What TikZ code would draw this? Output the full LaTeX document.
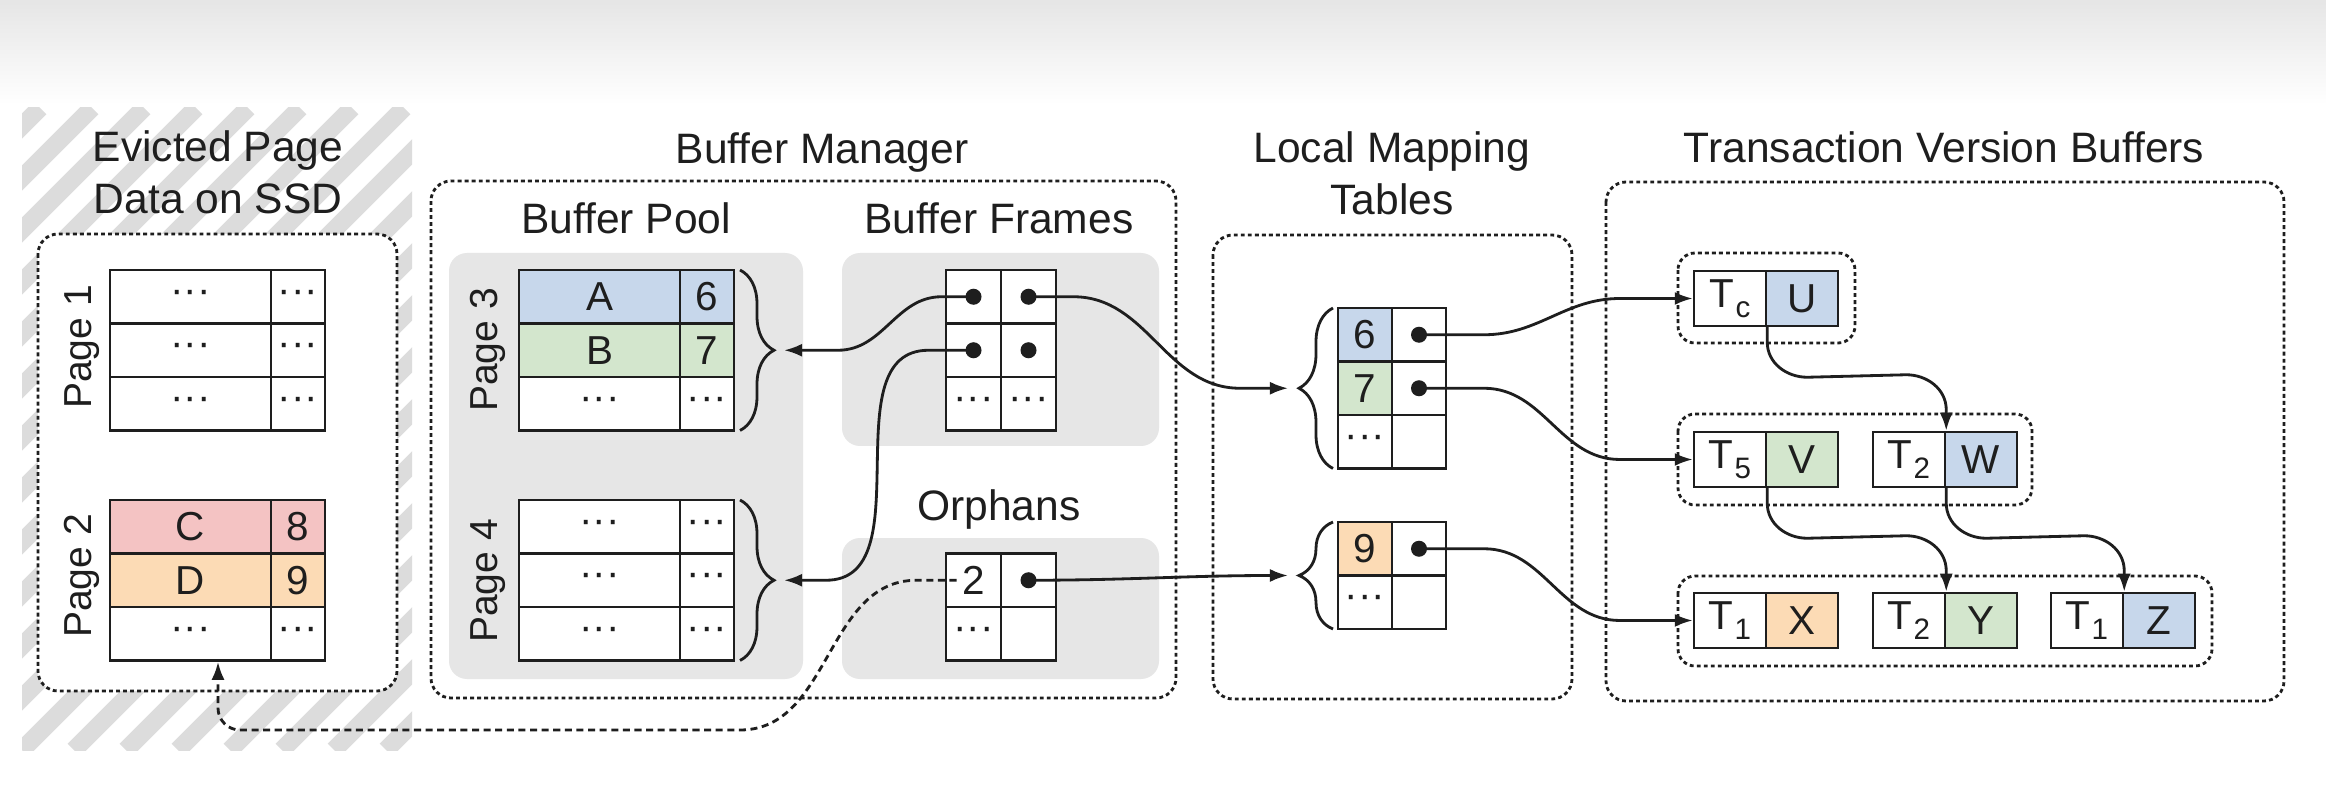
\documentclass[tikz,border=0pt]{standalone}
\usepackage{fontspec}
\setmainfont{Liberation Sans}
\usetikzlibrary{arrows.meta,decorations.pathreplacing,calc}
\definecolor{cblue}{HTML}{C7D7EB}
\definecolor{cgreen}{HTML}{D3E6CD}
\definecolor{cred}{HTML}{F4C3C3}
\definecolor{corange}{HTML}{FCDBB5}
\definecolor{bggray}{HTML}{E6E6E6}
\definecolor{hatchgray}{HTML}{DCDCDC}
\definecolor{ink}{HTML}{1E1E1E}
\newcommand\Tsub[1]{T\kern0.3pt\raisebox{-0.45ex}{\fontsize{8.4}{8.4}\selectfont #1}}
\newcommand\cdts{···}
\begin{document}
\begin{tikzpicture}[x=0.01cm,y=0.01cm,
  every node/.style={text=ink},
  cell/.style={draw=ink, line width=0.7pt, inner sep=0pt, minimum height=0.535cm, font=\fontsize{11.5}{12}\selectfont},
  bigc/.style={cell, minimum width=1.61cm},
  smallc/.style={cell, minimum width=0.54cm},
  framec/.style={cell, minimum width=0.55cm},
  mapc/.style={cell, minimum width=0.54cm},
  verc/.style={cell, minimum width=0.72cm, minimum height=0.55cm},
  regbox/.style={draw=ink, line width=0.8pt, dash pattern=on 1.1pt off 0.9pt, rounded corners=0.2cm},
  vgroup/.style={draw=ink, line width=0.8pt, dash pattern=on 1.1pt off 0.9pt, rounded corners=0.17cm},
  grayarea/.style={fill=bggray, rounded corners=0.18cm},
  ttl/.style={font=\fontsize{12.1}{14.8}\selectfont, inner sep=0pt, anchor=base},
  dotmark/.style={circle, fill=ink, inner sep=0pt, minimum size=0.16cm},
  conn/.style={draw=ink, line width=0.8pt, -{Latex[length=1.8mm,width=1.3mm]}},
  evict/.style={conn, dash pattern=on 2pt off 1.3pt},
  bracestyle/.style={draw=ink, line width=0.8pt, decorate, decoration={brace, amplitude=0.34cm}},
  plabel/.style={font=\fontsize{11.1}{14}\selectfont, rotate=90, inner sep=0pt}
]
\useasboundingbox (0,0) rectangle (2326,-794);
\fill[white] (0,0) rectangle (2326,-794);
\shade[top color=black!10, bottom color=white] (0,0) rectangle (2326,-105);

% ---------- SSD hatch ----------
\begin{scope}
  \clip (22,-108) rectangle (412,-750);
  \foreach \i in {-13,...,8} {
    \draw[hatchgray, line width=0.18cm] ({22+\i*52},-750) -- ++(642,642);
  }
\end{scope}
\node[ttl] (ssdt1) at (218,-162) {Evicted Page};
\node[ttl] (ssdt2) at (218,-214) {Data on SSD};
\draw[regbox, fill=white] (38,-234) rectangle (397,-691);

% Page 1
\node[plabel] (lp1) at (82,-347) {Page 1};
\node[bigc]   (s1a) at (190.5,-296.75) {\cdts};
\node[smallc] (s1b) at (298,-296.75) {\cdts};
\node[bigc]   (s1c) at (190.5,-350.25) {\cdts};
\node[smallc] (s1d) at (298,-350.25) {\cdts};
\node[bigc]   (s1e) at (190.5,-403.75) {\cdts};
\node[smallc] (s1f) at (298,-403.75) {\cdts};
% Page 2
\node[plabel] (lp2) at (82,-576) {Page 2};
\node[bigc, fill=cred]      (s2a) at (190.5,-526.75) {C};
\node[smallc, fill=cred]    (s2b) at (298,-526.75) {8};
\node[bigc, fill=corange]   (s2c) at (190.5,-580.25) {D};
\node[smallc, fill=corange] (s2d) at (298,-580.25) {9};
\node[bigc]   (s2e) at (190.5,-633.75) {\cdts};
\node[smallc] (s2f) at (298,-633.75) {\cdts};

% ---------- Buffer Manager ----------
\node[ttl] (bmt) at (822,-164) {Buffer Manager};
\draw[regbox] (431,-181) rectangle (1176,-698);
\node[ttl] (bpt) at (626,-234) {Buffer Pool};
\node[ttl] (bft) at (999,-234) {Buffer Frames};
\node[ttl] (ort) at (999,-520) {Orphans};
\fill[grayarea] (449,-253) rectangle (803,-679);
\fill[grayarea] (842,-253) rectangle (1159,-446);
\fill[grayarea] (842,-538) rectangle (1159,-679);

% Page 3
\node[plabel] (lp3) at (488,-350) {Page 3};
\node[bigc, fill=cblue]    (p3a) at (599.5,-296.75) {A};
\node[smallc, fill=cblue]  (p3b) at (707,-296.75) {6};
\node[bigc, fill=cgreen]   (p3c) at (599.5,-350.25) {B};
\node[smallc, fill=cgreen] (p3d) at (707,-350.25) {7};
\node[bigc, fill=white]    (p3e) at (599.5,-403.75) {\cdts};
\node[smallc, fill=white]  (p3f) at (707,-403.75) {\cdts};
% Page 4
\node[plabel] (lp4) at (488,-581) {Page 4};
\node[bigc, fill=white]   (p4a) at (599.5,-526.75) {\cdts};
\node[smallc, fill=white] (p4b) at (707,-526.75) {\cdts};
\node[bigc, fill=white]   (p4c) at (599.5,-580.25) {\cdts};
\node[smallc, fill=white] (p4d) at (707,-580.25) {\cdts};
\node[bigc, fill=white]   (p4e) at (599.5,-633.75) {\cdts};
\node[smallc, fill=white] (p4f) at (707,-633.75) {\cdts};
\draw[bracestyle] (740,-270) -- (740,-430.5);
\coordinate (p3tip) at (784,-350.25);
\draw[bracestyle] (740,-500) -- (740,-660.5);
\coordinate (p4tip) at (784,-580.25);

% Buffer frames
\node[framec, fill=white] (f1a) at (973.5,-296.75) {};
\node[framec, fill=white] (f1b) at (1028.5,-296.75) {};
\node[framec, fill=white] (f2a) at (973.5,-350.25) {};
\node[framec, fill=white] (f2b) at (1028.5,-350.25) {};
\node[framec, fill=white] (f3a) at (973.5,-403.75) {\cdts};
\node[framec, fill=white] (f3b) at (1028.5,-403.75) {\cdts};
\node[dotmark] (fd1) at (f1a.center) {};
\node[dotmark] (fd2) at (f1b.center) {};
\node[dotmark] (fd3) at (f2a.center) {};
\node[dotmark] (fd4) at (f2b.center) {};

% Orphans
\node[framec, fill=white] (o1a) at (973.5,-580.25) {2};
\node[framec, fill=white] (o1b) at (1028.5,-580.25) {};
\node[framec, fill=white] (o2a) at (973.5,-633.75) {\cdts};
\node[framec, fill=white] (o2b) at (1028.5,-633.75) {};
\node[dotmark] (od) at (o1b.center) {};

% ---------- Local Mapping Tables ----------
\node[ttl] (lmt1) at (1392,-163) {Local Mapping};
\node[ttl] (lmt2) at (1392,-215) {Tables};
\draw[regbox] (1213,-235) rectangle (1572,-699);
\node[mapc, fill=cblue]   (m1a) at (1365,-334.75) {6};
\node[mapc, fill=white]   (m1b) at (1419,-334.75) {};
\node[mapc, fill=cgreen]  (m2a) at (1365,-388.25) {7};
\node[mapc, fill=white]   (m2b) at (1419,-388.25) {};
\node[mapc, fill=white]   (m3a) at (1365,-441.75) {\cdts};
\node[mapc, fill=white]   (m3b) at (1419,-441.75) {};
\node[mapc, fill=corange] (n1a) at (1365,-548.75) {9};
\node[mapc, fill=white]   (n1b) at (1419,-548.75) {};
\node[mapc, fill=white]   (n2a) at (1365,-602.25) {\cdts};
\node[mapc, fill=white]   (n2b) at (1419,-602.25) {};
\node[dotmark] (md1) at (m1b.center) {};
\node[dotmark] (md2) at (m2b.center) {};
\node[dotmark] (md3) at (n1b.center) {};
\draw[bracestyle] (1333,-468.5) -- (1333,-308);
\coordinate (m1tip) at (1288,-388.25);
\draw[bracestyle] (1333,-629) -- (1333,-522);
\coordinate (m2tip) at (1288,-575.5);

% ---------- Transaction Version Buffers ----------
\node[ttl] (tvbt) at (1944,-163) {Transaction Version Buffers};
\draw[regbox] (1606,-182) rectangle (2284,-701);
\draw[vgroup] (1678,-253) rectangle (1855,-343);
\draw[vgroup] (1678,-414) rectangle (2032,-505);
\draw[vgroup] (1678,-576) rectangle (2212,-666);
\node[verc]               (u1) at (1730,-298.5) {\Tsub{c}};
\node[verc, fill=cblue]   (u2) at (1802,-298.5) {U};
\node[verc]               (v1) at (1730,-459.5) {\Tsub{5}};
\node[verc, fill=cgreen]  (v2) at (1802,-459.5) {V};
\node[verc]               (w1) at (1909,-459.5) {\Tsub{2}};
\node[verc, fill=cblue]   (w2) at (1981,-459.5) {W};
\node[verc]               (x1) at (1730,-620.5) {\Tsub{1}};
\node[verc, fill=corange] (x2) at (1802,-620.5) {X};
\node[verc]               (y1) at (1909,-620.5) {\Tsub{2}};
\node[verc, fill=cgreen]  (y2) at (1981,-620.5) {Y};
\node[verc]               (z1) at (2087,-620.5) {\Tsub{1}};
\node[verc, fill=cblue]   (z2) at (2159,-620.5) {Z};

% ---------- connectors ----------
\draw[conn] (fd1.center) -- ++(-32,0) to[out=180,in=0] (838,-350.25) -- (p3tip);
\draw[conn] (fd3.center) -- ++(-45,0) to[out=180,in=0] (826,-580.25) -- (p4tip);
\draw[conn] (fd2.center) -- ++(45,0) to[out=0,in=180] (1240,-388.25) -- (m1tip);
\draw[conn] (od.center) to[out=0,in=180] (m2tip);
\draw[conn] (md1.center) -- ++(65,0) to[out=0,in=180] (1620,-298.5) -- (u1.west);
\draw[conn] (md2.center) -- ++(65,0) to[out=0,in=180] (1620,-459.5) -- (v1.west);
\draw[conn] (md3.center) -- ++(65,0) to[out=0,in=180] (1620,-620.5) -- (x1.west);

\draw[conn] (u1.south east) -- ++(0,-15) to[out=-90,in=180] ++(40,-35)
  -- ($(w1.north east)+(-40,56)$) to[out=0,in=90] ++(40,-35) -- (w1.north east);
\draw[conn] (v1.south east) -- ++(0,-15) to[out=-90,in=180] ++(40,-35)
  -- ($(y1.north east)+(-40,56)$) to[out=0,in=90] ++(40,-35) -- (y1.north east);
\draw[conn] (w1.south east) -- ++(0,-15) to[out=-90,in=180] ++(40,-35)
  -- ($(z1.north east)+(-40,56)$) to[out=0,in=90] ++(40,-35) -- (z1.north east);

\draw[evict] ($(o1a.center)+(-17,0)$) -- ++(-40,0) to[out=180,in=0] (740,-730)
  -- (240,-730) to[out=180,in=-90] (218,-708) -- ([xshift=0.275cm]s2e.south);
\end{tikzpicture}
\end{document}
